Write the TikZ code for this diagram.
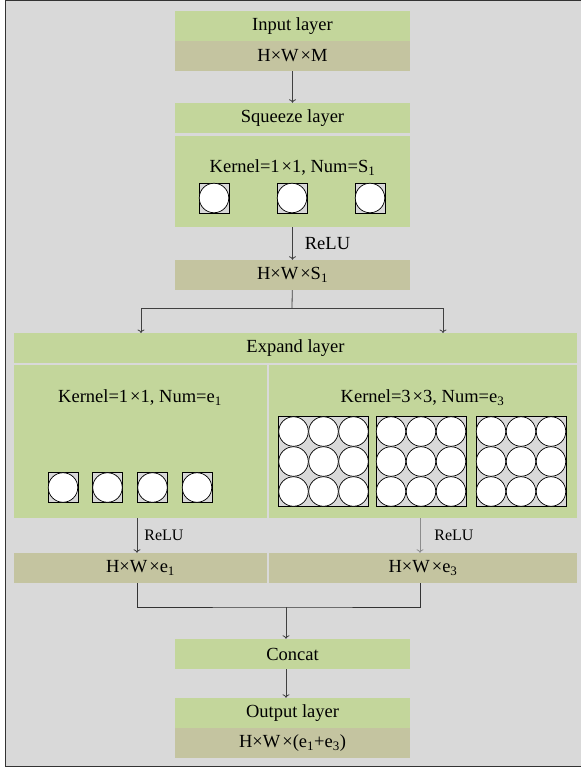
\documentclass[tikz,border=0pt]{standalone}
\usepackage{fontspec}
\setmainfont{Liberation Serif}
\usetikzlibrary{arrows.meta}
\definecolor{layergreen}{RGB}{195,214,155}
\definecolor{shapetan}{RGB}{196,196,160}
\definecolor{bggray}{RGB}{217,217,217}
\newcommand{\tsp}{\hspace{2pt}}
\tikzset{
  layer/.style={fill=layergreen, minimum height=30pt, inner sep=0pt, font=\fontsize{18.5}{20}\selectfont},
  dims/.style={layer, fill=shapetan},
  body/.style={fill=layergreen, inner sep=0pt},
  txt/.style={inner sep=0pt, font=\fontsize{18.5}{20}\selectfont},
  kbox/.style={draw, fill=bggray, minimum size=30pt, inner sep=0pt, line width=0.8pt},
  kdot/.style={draw, fill=white, circle, minimum size=29.5pt, inner sep=0pt, line width=0.7pt},
  arr/.style={draw=black!75, line width=0.8pt, -{To[length=3.5pt,width=7pt]}},
  relu/.style={inner sep=0pt, font=\fontsize{16}{18}\selectfont},
}
\begin{document}
\begin{tikzpicture}[x=1pt, y=-1pt]
\useasboundingbox (0,0) rectangle (581,770);
\fill[bggray] (6,1) rectangle (581,766);
\draw[black!80, line width=1.2pt] (581,0.6) -- (5.6,0.6) -- (5.6,766.6) -- (581,766.6);

% input and squeeze
\node[layer, minimum width=235pt] (inhead) at (292.5,26) {Input layer};
\node[dims, minimum width=235pt] (inshape) at (292.5,56) {H×W\tsp×M};
\node[layer, minimum width=235pt] (sqhead) at (292.5,118) {Squeeze layer};
\node[body, minimum width=235pt, minimum height=91pt] (sqbody) at (292.5,181.5) {};
\node[txt] (sqtext) at (292.5,168) {Kernel=1\tsp×1, Num=S\textsubscript{1}};
\foreach \x [count=\i] in {214,292,370} {
  \node[kbox] (sqk\i) at (\x,198) {};
  \node[kdot] at (sqk\i) {};
}
\node[dims, minimum width=235pt] (sqshape) at (292.5,275) {H×W\tsp×S\textsubscript{1}};

% expand
\node[layer, minimum width=563pt] (exhead) at (295.5,348) {Expand layer};
\node[body, minimum width=253pt, minimum height=153pt] (exleft) at (140.5,441.5) {};
\node[body, minimum width=308pt, minimum height=153pt] (exright) at (423,441.5) {};
\node[txt] (extextl) at (140,398) {Kernel=1\tsp×1, Num=e\textsubscript{1}};
\node[txt] (extextr) at (422.5,398) {Kernel=3\tsp×3, Num=e\textsubscript{3}};
\foreach \x [count=\i] in {63,107.5,152.5,197} {
  \node[kbox] (exk\i) at (\x,487.5) {};
  \node[kdot] at (exk\i) {};
}
\foreach \x [count=\i] in {323.5,421,521} {
  \node[kbox, minimum size=90pt] (exq\i) at (\x,461.5) {};
  \foreach \dx in {-30,0,30}
    \foreach \dy in {-30,0,30}
      \node[kdot] at ([shift={(\dx,\dy)}]exq\i.center) {};
}
\node[dims, minimum width=253pt] (exlshape) at (140.5,568) {H×W\tsp×e\textsubscript{1}};
\node[dims, minimum width=308pt] (exrshape) at (423,568) {H×W\tsp×e\textsubscript{3}};

% concat and output
\node[layer, minimum width=235pt] (concat) at (292.5,654) {Concat};
\node[layer, minimum width=235pt] (outhead) at (292.5,713) {Output layer};
\node[dims, minimum width=235pt] (outshape) at (292.5,743) {H×W\tsp×(e\textsubscript{1}+e\textsubscript{3})};

\coordinate (split) at (292,308);
\coordinate (inl) at (141,333);
\coordinate (inr) at (443,333);
\coordinate (join) at (286,607);

\path[arr] (inshape) -- (sqhead);
\path[arr] (sqbody) -- node[relu, right=12pt, font=\fontsize{18.5}{20}\selectfont] {ReLU} (sqshape);
\draw[black!75, line width=0.8pt] (sqshape) -- (split);
\path[arr] (split) -| (inl);
\path[arr] (split) -| (inr);
\path[arr] ([xshift=-3.5pt]exleft.south) -- node[relu, right=7pt] {ReLU} ([xshift=-3.5pt]exlshape.north);
\path[arr, draw=black!45] ([xshift=-3pt]exright.south) -- node[relu, right=14pt] {ReLU} ([xshift=-3pt]exrshape.north);
\draw[black!80, line width=0.8pt] ([xshift=-3.5pt]exlshape.south) |- (join) -| ([xshift=-3pt]exrshape.south);
\path[arr] (join) -- (join |- concat.north);
\path[arr] (concat.south -| join) -- (outhead.north -| join);
\end{tikzpicture}
\end{document}
